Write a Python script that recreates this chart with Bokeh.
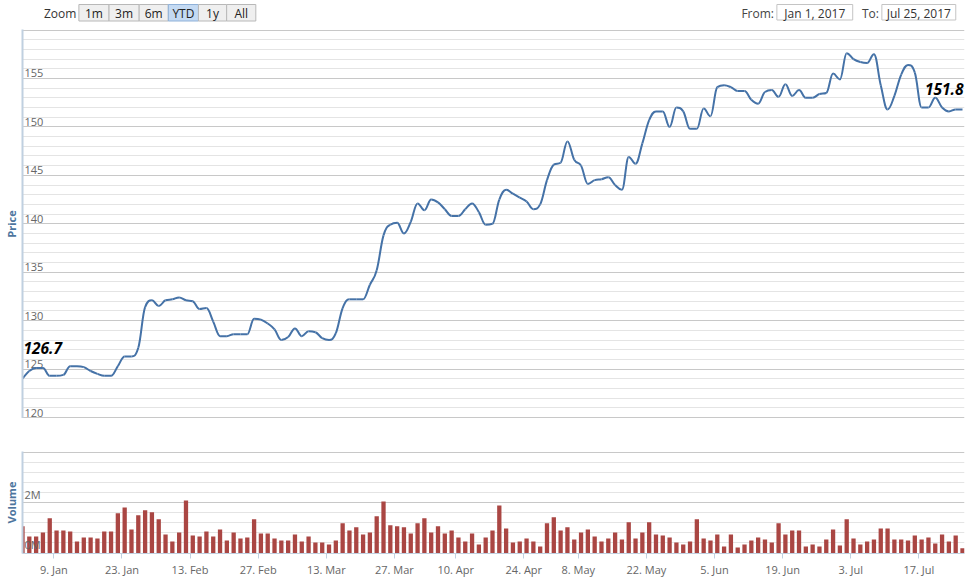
import numpy as np
from bokeh.plotting import figure
from bokeh.layouts import column
from bokeh.models import Range1d, LinearAxis, FixedTicker, Grid, Label
from bokeh.core.properties import value
from bokeh.embed import file_html
from bokeh.resources import INLINE

# ---------------- data ----------------
price = [124.0, 124.8, 125.1, 125.1, 124.3, 124.3, 124.4, 125.3, 125.3, 125.2,
         124.8, 124.5, 124.3, 124.3, 125.3, 126.3, 126.3, 127.2, 131.4, 132.1,
         131.5, 132.1, 132.2, 132.4, 132.1, 132.0, 131.2, 131.3, 129.9, 128.4,
         128.4, 128.6, 128.6, 128.6, 130.2, 130.1, 129.7, 129.1, 128.0, 128.3,
         129.2, 128.4, 128.9, 128.8, 128.2, 128.0, 128.7, 131.3, 132.2, 132.2,
         132.2, 133.7, 135.2, 138.8, 139.9, 140.1, 139.0, 140.2, 142.1, 141.4,
         142.5, 142.2, 141.5, 140.8, 140.8, 141.5, 142.1, 141.2, 139.9, 140.0,
         142.5, 143.5, 143.1, 142.7, 142.3, 141.5, 142.0, 144.5, 146.1, 146.3,
         148.5, 146.6, 146.0, 144.1, 144.5, 144.6, 144.8, 144.0, 143.5, 146.9,
         146.2, 148.3, 150.7, 151.6, 151.6, 150.0, 152.0, 151.6, 149.8, 149.8,
         151.9, 151.1, 154.1, 154.3, 154.1, 153.7, 153.7, 152.8, 152.4, 153.6,
         153.8, 153.1, 154.4, 153.2, 153.8, 153.0, 153.0, 153.4, 153.5, 155.5,
         154.9, 157.6, 157.0, 156.7, 156.6, 157.5, 154.3, 151.8, 153.2, 155.4,
         156.4, 155.6, 152.0, 152.0, 153.0, 152.0, 151.6, 151.8, 151.8]

volume_m = [1.06, 0.66, 0.66, 0.82, 1.38, 0.90, 0.90, 0.86, 0.46, 0.62,
            0.62, 0.58, 0.86, 0.86, 1.58, 1.81, 0.94, 1.50, 1.70, 1.62,
            1.34, 0.74, 0.46, 0.82, 2.09, 0.70, 0.66, 0.86, 0.66, 0.94,
            0.50, 0.82, 0.58, 0.62, 1.34, 0.78, 0.78, 0.58, 0.50, 0.50,
            0.74, 0.46, 0.66, 0.42, 0.42, 0.34, 0.50, 1.18, 0.90, 1.02,
            0.74, 0.82, 1.46, 2.05, 1.10, 1.06, 1.02, 0.78, 1.18, 1.38,
            0.82, 1.06, 0.78, 0.90, 0.62, 0.46, 0.78, 0.34, 0.62, 0.90,
            1.89, 0.98, 0.42, 0.46, 0.58, 0.46, 0.26, 1.18, 1.42, 0.90,
            1.02, 0.54, 0.82, 0.94, 0.66, 0.46, 0.58, 0.82, 0.54, 1.22,
            0.58, 0.82, 1.22, 0.74, 0.70, 0.62, 0.42, 0.34, 0.46, 1.34,
            0.58, 0.50, 0.74, 0.26, 0.74, 0.22, 0.34, 0.50, 0.62, 0.54,
            0.42, 1.18, 0.74, 0.90, 0.90, 0.26, 0.34, 0.26, 0.54, 0.94,
            0.30, 1.34, 0.58, 0.34, 0.46, 0.54, 0.98, 0.98, 0.54, 0.54,
            0.50, 0.70, 0.54, 0.62, 0.38, 0.74, 0.46, 0.70, 0.19]

tick_days = [5, 15, 25, 35, 45, 55, 64, 74, 82, 92, 102, 112, 122, 132]
tick_labels = ["9. Jan", "23. Jan", "13. Feb", "27. Feb", "13. Mar", "27. Mar",
               "10. Apr", "24. Apr", "8. May", "22. May", "5. Jun", "19. Jun",
               "3. Jul", "17. Jul"]

price_ticks = [120, 125, 130, 135, 140, 145, 150, 155]
price_top = 160
volume_ticks = [0, 2]
volume_top = 4

first_label = "126.7"
first_label_value = 126.7
last_label = "151.8"

zoom_buttons = ["1m", "3m", "6m", "YTD", "1y", "All"]
selected_button = "YTD"
date_from = "Jan 1, 2017"
date_to = "Jul 25, 2017"

# ---------------- style ----------------
FONT = "Open Sans"
LINE_COLOR = "#4572A7"
BAR_COLOR = "#AA4643"
MAJOR_GRID = "#C8C8C8"
MINOR_GRID = "#E4E4E4"
AXIS_COLOR = "#C0D0E0"
TITLE_COLOR = "#4d759e"
LABEL_COLOR = "#666666"

W = 969
LEFT, RIGHT = 22, 5
N = len(price)
frame_w = W - LEFT - RIGHT
px_per_day = 940.0 / (N - 1)
x_start = 0.0
x_end = frame_w / px_per_day

# ---------------- top row (zoom buttons, dates) ----------------
top = figure(width=W, height=29, x_range=Range1d(0, W), y_range=Range1d(29, 0),
             output_backend="svg", toolbar_location=None,
             x_axis_location=None, y_axis_location=None,
             min_border_left=0, min_border_right=0, min_border_top=0, min_border_bottom=0,
             outline_line_color=None)
top.xgrid.visible = False
top.ygrid.visible = False

top.text(x=[22], y=[12.5], text=["Zoom"], text_font=value(FONT), text_font_size="12px",
         text_color="#333333", text_baseline="middle", text_align="left")

btn_w = [31, 31, 30, 31, 29, 30]
lefts = list(np.cumsum([58] + btn_w[:-1]))
rights = [l + w for l, w in zip(lefts, btn_w)]
fills = ["#C4DAF3" if b == selected_button else "#EFEFEF" for b in zoom_buttons]
borders = ["#8FB1D8" if b == selected_button else "#B8B8B8" for b in zoom_buttons]
top.quad(left=lefts, right=rights, top=[4] * 6, bottom=[20.5] * 6,
         fill_color=fills, line_color=borders, line_width=1)
top.text(x=[(l + r) / 2 for l, r in zip(lefts, rights)], y=[12.5] * 6, text=zoom_buttons,
         text_font=value(FONT), text_font_size="12px", text_color="#222222",
         text_baseline="middle", text_align="center")

top.quad(left=[776, 884], right=[854, 960], top=[4, 4], bottom=[19.5, 19.5],
         fill_color="white", line_color="#C4C4C4", line_width=1)
top.text(x=[773, 881], y=[12.5, 12.5], text=["From:", "To:"], text_font=value(FONT),
         text_font_size="12px", text_color="#444444", text_baseline="middle", text_align="right")
top.text(x=[815, 922], y=[12.5, 12.5], text=[date_from, date_to], text_font=value(FONT),
         text_font_size="12px", text_color="#333333", text_baseline="middle", text_align="center")

# ---------------- price panel ----------------
p_px = (417 - 29.5) / (price_top - price_ticks[0])
py0 = price_ticks[0] - 1.0 / p_px
py1 = price_top + 0.5 / p_px

pp = figure(width=W, height=389, x_range=Range1d(x_start, x_end), y_range=Range1d(py0, py1),
            output_backend="svg", toolbar_location=None,
            x_axis_location=None, y_axis_location=None,
            min_border_left=LEFT, min_border_right=RIGHT, min_border_top=0, min_border_bottom=0,
            outline_line_color=None)
pp.xgrid.visible = False
pp.ygrid.visible = False

major_p = list(range(price_ticks[0], price_top + 1, 5))
minor_p = [v for v in range(price_ticks[0], price_top + 1) if v % 5 != 0]
g = Grid(dimension=1, ticker=FixedTicker(ticks=major_p, minor_ticks=minor_p),
         grid_line_color=MAJOR_GRID, minor_grid_line_color=MINOR_GRID)
pp.add_layout(g)

ax = LinearAxis(ticker=FixedTicker(ticks=[]), axis_label="Price",
                axis_line_color=AXIS_COLOR, axis_line_width=2,
                major_tick_line_color=None, minor_tick_line_color=None,
                axis_label_standoff=4, axis_label_text_font=FONT,
                axis_label_text_font_size="11px", axis_label_text_font_style="bold",
                axis_label_text_color=TITLE_COLOR, major_label_text_font_size="0px")
pp.add_layout(ax, "left")

pp.text(x=[x_start] * len(price_ticks), y=price_ticks, text=[str(t) for t in price_ticks],
        x_offset=2, y_offset=-1, text_font=value(FONT), text_font_size="11px",
        text_color=LABEL_COLOR, text_baseline="bottom", text_align="left")

# Highcharts-style spline through the points
xs = np.arange(N, dtype=float)
ys = np.array(price, dtype=float)
sm = 1.5
den = sm + 1
lcx, lcy, rcx, rcy = xs.copy(), ys.copy(), xs.copy(), ys.copy()
for i in range(1, N - 1):
    px_, py_ = xs[i], ys[i]
    lx, ly = xs[i - 1], ys[i - 1]
    nx, ny = xs[i + 1], ys[i + 1]
    a_x = (sm * px_ + lx) / den
    a_y = (sm * py_ + ly) / den
    b_x = (sm * px_ + nx) / den
    b_y = (sm * py_ + ny) / den
    if b_x != a_x:
        corr = ((b_y - a_y) * (b_x - px_)) / (b_x - a_x) + py_ - b_y
        a_y += corr
        b_y += corr
        if a_y > ly and a_y > py_:
            a_y = max(ly, py_); b_y = 2 * py_ - a_y
        elif a_y < ly and a_y < py_:
            a_y = min(ly, py_); b_y = 2 * py_ - a_y
        if b_y > ny and b_y > py_:
            b_y = max(ny, py_); a_y = 2 * py_ - b_y
        elif b_y < ny and b_y < py_:
            b_y = min(ny, py_); a_y = 2 * py_ - b_y
    lcx[i], lcy[i], rcx[i], rcy[i] = a_x, a_y, b_x, b_y

pp.bezier(x0=xs[:-1], y0=ys[:-1], x1=xs[1:], y1=ys[1:],
          cx0=rcx[:-1], cy0=rcy[:-1], cx1=lcx[1:], cy1=lcy[1:],
          line_color=LINE_COLOR, line_width=2)

pp.add_layout(Label(x=0, y=first_label_value, text=first_label, x_offset=1, y_offset=4.6,
                    text_font=FONT, text_font_size="15.5px", text_font_style="bold italic",
                    text_color="black", text_baseline="middle", text_align="left"))
pp.add_layout(Label(x=N - 1, y=price[-1], text=last_label, x_offset=1, y_offset=20,
                    text_font=FONT, text_font_size="15.5px", text_font_style="bold italic",
                    text_color="black", text_baseline="middle", text_align="right"))

# ---------------- volume panel ----------------
v_px = (552.5 - 452) / volume_top
vy0 = -0.5 / v_px
vy1 = volume_top + 1.0 / v_px

vp = figure(width=W, height=161, x_range=pp.x_range, y_range=Range1d(vy0, vy1),
            output_backend="svg", toolbar_location=None,
            x_axis_location=None, y_axis_location=None,
            min_border_left=LEFT, min_border_right=RIGHT, min_border_top=33, min_border_bottom=26,
            outline_line_color=None)
vp.xgrid.visible = False
vp.ygrid.visible = False

major_v = [0, 2, 4]
minor_v = [round(0.4 * k, 2) for k in range(11) if round(0.4 * k, 2) not in major_v]
vg = Grid(dimension=1, ticker=FixedTicker(ticks=major_v, minor_ticks=minor_v),
          grid_line_color=MAJOR_GRID, minor_grid_line_color=MINOR_GRID)
vp.add_layout(vg)

vax = LinearAxis(ticker=FixedTicker(ticks=[]), axis_label="Volume",
                 axis_line_color=AXIS_COLOR, axis_line_width=2,
                 major_tick_line_color=None, minor_tick_line_color=None,
                 axis_label_standoff=4, axis_label_text_font=FONT,
                 axis_label_text_font_size="11px", axis_label_text_font_style="bold",
                 axis_label_text_color=TITLE_COLOR, major_label_text_font_size="0px")
vp.add_layout(vax, "left")

vp.vbar(x=xs, top=volume_m, bottom=0, width=0.63, fill_color=BAR_COLOR, line_color=None)

vp.text(x=[x_start] * len(volume_ticks), y=volume_ticks, text=[f"{t}M" for t in volume_ticks],
        x_offset=2, y_offset=-1, text_font=value(FONT), text_font_size="11px",
        text_color=LABEL_COLOR, text_baseline="bottom", text_align="left")

tick_pos = [round(d - 0.4, 2) for d in tick_days]
xax = LinearAxis(ticker=FixedTicker(ticks=tick_pos, minor_ticks=[]),
                 major_label_overrides={t: l for t, l in zip(tick_pos, tick_labels)},
                 axis_line_color=AXIS_COLOR, major_tick_line_color=AXIS_COLOR,
                 major_tick_out=5, major_tick_in=0, minor_tick_line_color=None,
                 major_label_standoff=3, major_label_text_font=FONT,
                 major_label_text_font_size="11px", major_label_text_color=LABEL_COLOR)
vp.add_layout(xax, "below")

layout = column(top, pp, vp, spacing=0)
open("out.html", "w").write(file_html(layout, INLINE))
